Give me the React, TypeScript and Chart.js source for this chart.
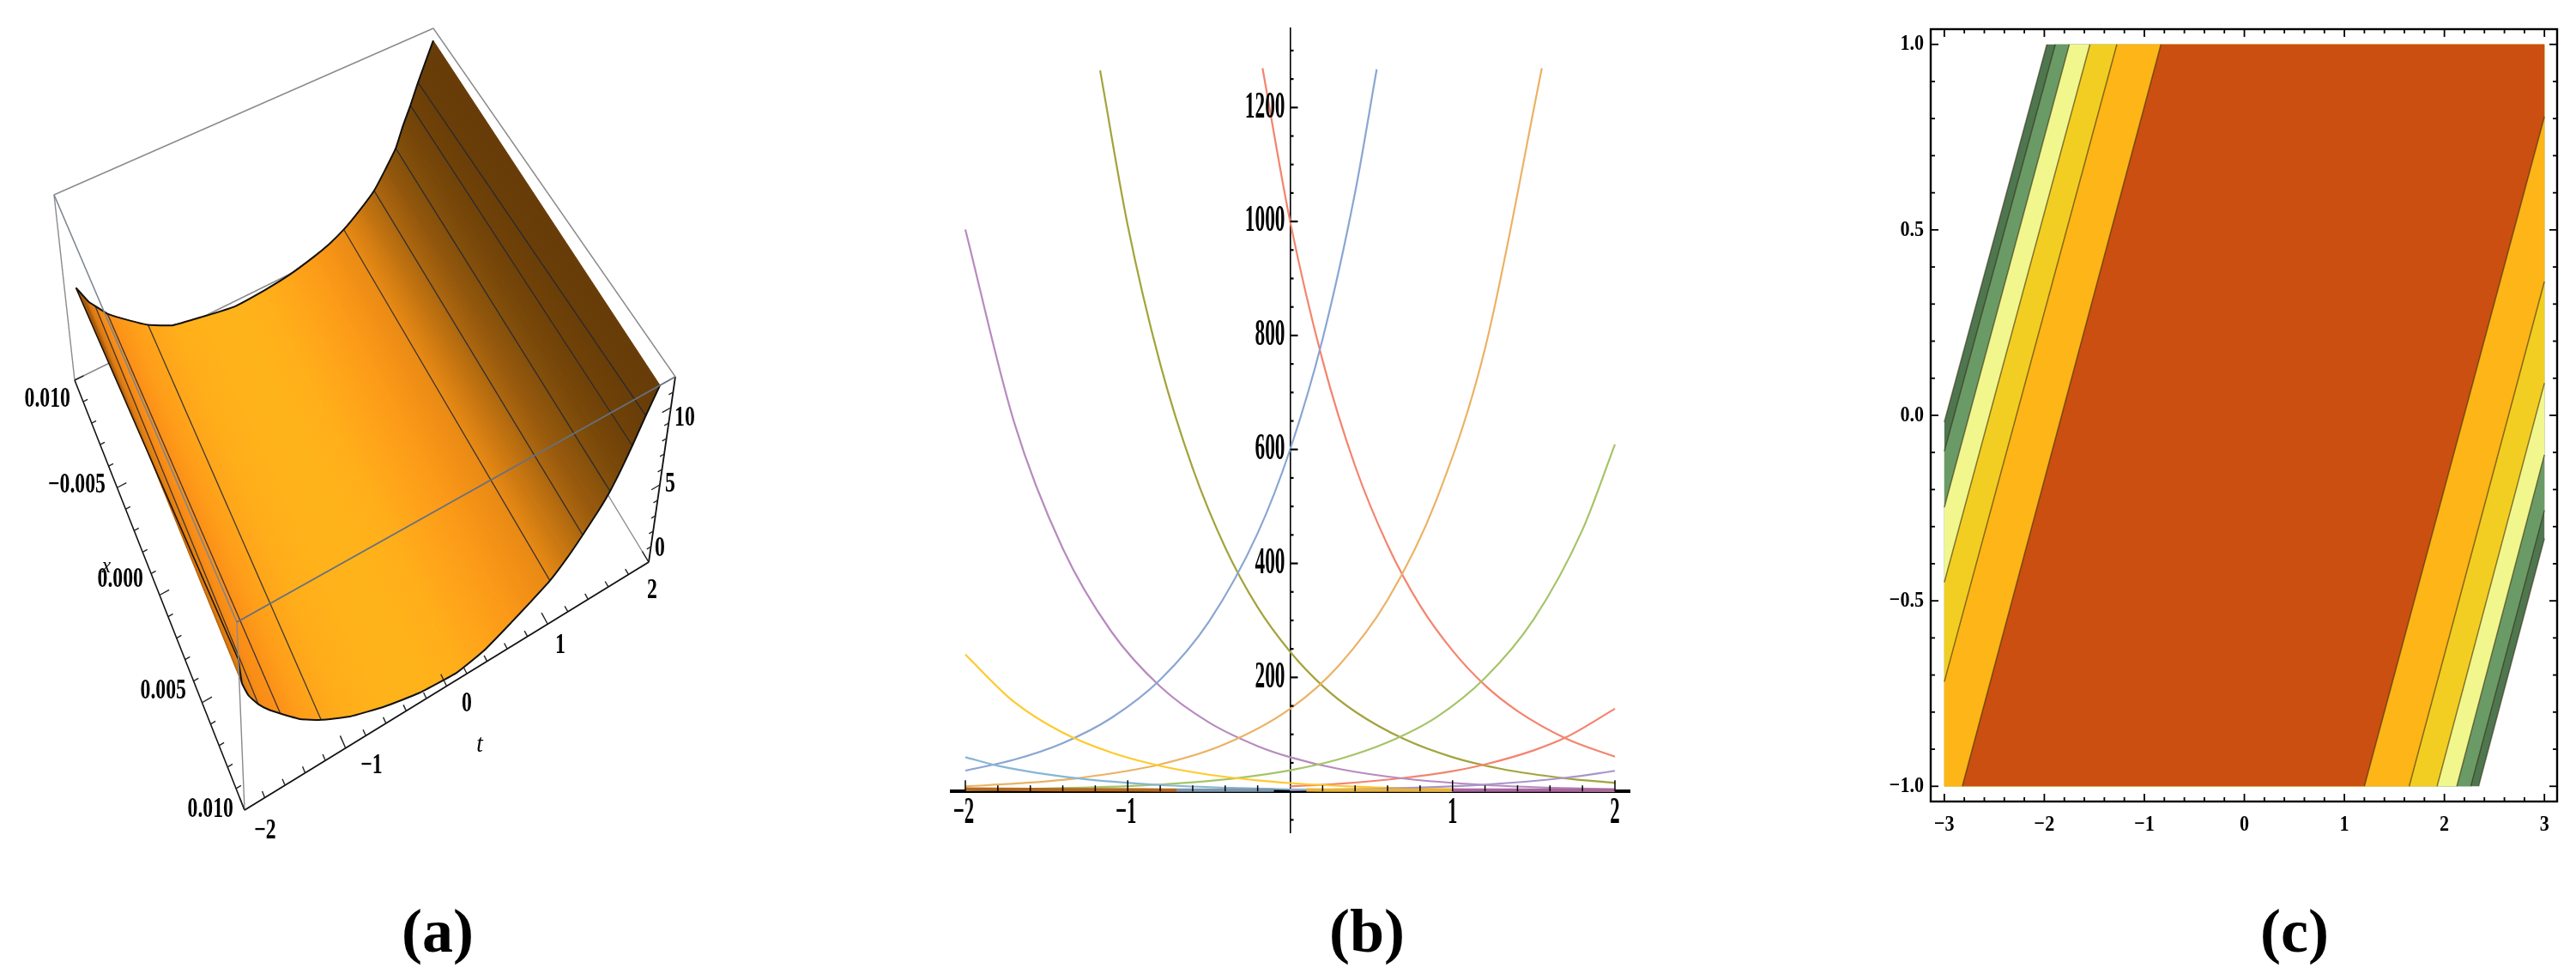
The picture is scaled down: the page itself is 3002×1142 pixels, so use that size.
import React, { useEffect, useRef } from "react";
import { Chart, registerables } from "chart.js";

Chart.register(...registerables);

/* ---------- panel (a) : surface ---------- */
const surfaceFrontT = [-2, -1.976, -1.92, -1.832, -1.74, -1.628, -1.44, -1.24, -0.96, -0.616, -0.28, 0.096, 0.36, 0.62, 0.8, 0.98, 1.14, 1.268, 1.4, 1.496, 1.58, 1.664, 1.76, 1.86];
const surfaceFrontZ = [9.6, 8.0, 7.0, 6.1, 5.4, 4.7, 3.6, 2.76, 1.86, 1.14, 0.66, 0.48, 0.84, 1.62, 2.22, 2.88, 3.78, 4.68, 5.7, 6.6, 7.64, 8.88, 10.44, 12];
const surfaceBackT = [-1.88, -1.8, -1.76, -1.7, -1.64, -1.58, -1.38, -1.16, -0.9, -0.56, -0.22, 0.12, 0.4, 0.68, 0.86, 1.02, 1.2, 1.36, 1.48, 1.6, 1.68, 1.76, 1.84, 2];
const surfaceBackZ = [5.64, 4.8, 4.38, 3.96, 3.54, 3.12, 2.16, 1.2, 0.42, 0.02, -0.33, -0.24, -0.04, 0.36, 0.72, 1.2, 1.98, 2.82, 3.84, 4.98, 6.3, 7.44, 8.76, 11.16];
const surfaceShade = ["#a85a0c", "#b9650e", "#d97a12", "#f08815", "#f98d17", "#fb9018", "#fe9c19", "#ffa51a", "#ffae1a", "#ffb21a", "#ffb31a", "#ffaf1a", "#ffa51a", "#fb9a18", "#f39116", "#e88a15", "#c97711", "#ad670f", "#95580d", "#84500b", "#784709", "#704208", "#6a3e08", "#683c08"];
const surfaceMeshRows = [3, 5, 7, 15, 17, 19, 21, 22];

const aTLabels = ["−2", "−1", "0", "1", "2"];
const aTTicks = [-2, -1, 0, 1, 2];
const aXLabels = ["0.010", "−0.005", "0.000", "0.005", "0.010"];
const aXTicks = [-0.01, -0.005, 0, 0.005, 0.01];
const aZLabels = ["0", "5", "10"];
const aZTicks = [0, 5, 10];

/* ---------- panel (b) : curves ---------- */
const blueT = [-2, -1.7, -1.4, -1.1, -0.8, -0.5, -0.2, 0, 0.2, 0.4, 0.533];
const blueV = [36.5, 55.6, 84.7, 129, 196, 298, 453, 600, 794, 1051, 1267];
const oliveT = [-1.17, -1, -0.8, -0.6, -0.4, -0.2, 0, 0.2, 0.4, 0.7, 1, 1.3, 1.7, 2];
const oliveV = [1265, 993, 750, 567, 428, 323, 245, 185, 140, 92, 60, 39.5, 22.7, 14.9];
const orangeT = [-2, -1.6, -1.3, -0.8, -0.4, 0, 0.3, 0.6, 0.9, 1.2, 1.55];
const orangeV = [8.8, 15.4, 23.5, 47.3, 83, 145, 221, 336, 511, 777, 1269];
const purpleT = [-2, -1.7, -1.4, -1.1, -0.8, -0.5, -0.2, 0, 0.3, 0.7, 1.2, 1.7, 2];
const purpleV = [986, 648, 426, 280, 184, 121, 79.5, 60, 39.4, 22.5, 11.2, 5.6, 3.6];
const redDownT = [-0.17, 0, 0.2, 0.4, 0.6, 0.8, 1, 1.2, 1.4, 1.7, 2];
const redDownV = [1269, 1000, 756, 571, 432, 326, 247, 186, 141, 92.6, 60.8];
const redUpT = [0, 0.3, 0.7, 1, 1.2, 1.5, 1.7, 2];
const redUpV = [8.8, 13.4, 23.6, 35.6, 47.3, 72, 95, 145];
const greenT = [-2, -1, -0.6, -0.3, 0, 0.3, 0.6, 0.9, 1.2, 1.5, 1.8, 2];
const greenV = [2.3, 9.1, 16, 24.3, 37, 56.4, 86, 130, 199, 302, 459, 609];
const yellowT = [-2, -1.7, -1.4, -1.1, -0.8, -0.5, -0.2, 0, 0.4, 0.8, 1.2, 2];
const yellowV = [240, 157, 103, 68, 44.7, 29.3, 19.3, 14.6, 8.3, 4.7, 2.7, 0.9];
const skyT = [-2, -1.8, -1.3, -0.8, -0.3, 0, 1];
const skyV = [60, 45, 22.6, 11.2, 5.6, 3.65, 0.9];
const lavenderT = [0, 0.7, 1.2, 1.7, 2];
const lavenderV = [2.2, 5.9, 11.8, 24, 36];
const lowBrownT = [-2, -1.4, -0.9, -0.7];
const lowBrownV = [4, 3, 2.5, 2];
const lowSlateT = [-0.7, -0.4, -0.1];
const lowSlateV = [2, 2, 2];
const lowGoldT = [0.1, 0.5, 1];
const lowGoldV = [2.5, 2, 2];
const lowPlumT = [1, 1.5, 2];
const lowPlumV = [2, 2, 2];

const bXLabels = [-2, -1, 1, 2];
const bYLabels = [200, 400, 600, 800, 1000, 1200];

/* ---------- panel (c) : contour levels ---------- */
const contourTopX = [-1.975, -1.89, -1.75, -1.544, -1.275, -0.834];
const contourLeftX = [-3, -3, -3, -3, -3, -2.82];
const contourLeftY = [-0.018, -0.097, -0.248, -0.45, -0.718, -1];
const contourRightY = [-0.332, -0.256, -0.106, 0.087, 0.361, 0.805];
const contourBottomX = [2.342, 2.264, 2.124, 1.927, 1.648, 1.2];
const contourFill = ["#4e7750", "#6a9b66", "#f2f78d", "#f3ce22", "#fdb517", "#cb4f10"];

const cXLabels = [-3, -2, -1, 0, 1, 2, 3];
const cYLabels = [-1, -0.5, 0, 0.5, 1];

const SERIF = '"Liberation Serif"';

function label(ctx: CanvasRenderingContext2D, text: string, x: number, y: number, size: number, sx: number, align: CanvasTextAlign, weight = "bold", style = "normal") {
  ctx.save();
  ctx.translate(x, y);
  ctx.scale(sx, 1);
  ctx.font = `${style} ${weight} ${size}px ${SERIF}`;
  ctx.textAlign = align;
  ctx.textBaseline = "middle";
  ctx.fillStyle = "#000";
  ctx.fillText(text, 0, 0);
  ctx.restore();
}

function seg(ctx: CanvasRenderingContext2D, x0: number, y0: number, x1: number, y1: number, width: number, color = "#000") {
  ctx.strokeStyle = color;
  ctx.lineWidth = width;
  ctx.beginPath();
  ctx.moveTo(x0, y0);
  ctx.lineTo(x1, y1);
  ctx.stroke();
}

/* box corners of the 3-D view, in canvas pixels [u = t, v = x, w = z] */
const BOX = {
  b00: [87, 443], b10: [503, 238], b01: [285, 944], b11: [756, 655],
  t00: [63, 227], t10: [505, 33], t01: [276, 725], t11: [787, 439],
};
const Z_MAX = 12;
function project(t: number, x: number, z: number) {
  const u = (t + 2) / 4, v = (x + 0.01) / 0.02, w = z / Z_MAX;
  const mix = (a: number, b: number, k: number) => a + (b - a) * k;
  const out = [0, 1].map((i) => {
    const bottom = mix(mix(BOX.b00[i], BOX.b10[i], u), mix(BOX.b01[i], BOX.b11[i], u), v);
    const top = mix(mix(BOX.t00[i], BOX.t10[i], u), mix(BOX.t01[i], BOX.t11[i], u), v);
    return mix(bottom, top, w);
  });
  return { x: out[0], y: out[1] };
}

const surfaceRow = (i: number) => ({
  front: project(surfaceFrontT[i], 0.01, surfaceFrontZ[i]),
  back: project(surfaceBackT[i], -0.01, surfaceBackZ[i]),
});

function boxLine(a: number[], b: number[], color: string, w: number) {
  return { data: [project(a[0], a[1], a[2]), project(b[0], b[1], b[2])], borderColor: color, borderWidth: w, showLine: true, pointRadius: 0, fill: false };
}

function panelAConfig() {
  const sets: any[] = [];
  const gray = "#8a8a8a";
  // hidden edges, under the surface
  sets.push(boxLine([-2, -0.01, 0], [2, -0.01, 0], gray, 1.4));
  sets.push(boxLine([2, -0.01, 0], [2, 0.01, 0], gray, 1.4));
  sets.push(boxLine([-2, -0.01, 0], [-2, -0.01, Z_MAX], gray, 1.4));
  sets.push(boxLine([-2, -0.01, Z_MAX], [2, -0.01, Z_MAX], gray, 1.4));
  sets.push(boxLine([2, -0.01, Z_MAX], [2, 0.01, Z_MAX], gray, 1.4));
  sets.push(boxLine([2, 0.01, 0], [2, 0.01, Z_MAX], "#111", 1.8));
  sets.push(boxLine([-2, -0.01, 0], [-2, 0.01, 0], "#111", 1.6));
  sets.push(boxLine([-2, 0.01, 0], [2, 0.01, 0], "#111", 1.8));

  // surface strips
  for (let i = 0; i < surfaceShade.length - 1; i++) {
    const a = surfaceRow(i), b = surfaceRow(i + 1);
    let cache: any = null;
    const paint = (ctx: any) => {
      if (cache) return cache;
      const g = ctx.chart.ctx as CanvasRenderingContext2D;
      const ax = (a.front.x + a.back.x) / 2, ay = (a.front.y + a.back.y) / 2;
      const bx = (b.front.x + b.back.x) / 2, by = (b.front.y + b.back.y) / 2;
      const dx = a.front.x - a.back.x, dy = a.front.y - a.back.y, len = Math.hypot(dx, dy) || 1;
      const nx = -dy / len, ny = dx / len;
      const d = (bx - ax) * nx + (by - ay) * ny;
      const grad = g.createLinearGradient(ax, ay, ax + nx * d, ay + ny * d);
      grad.addColorStop(0, surfaceShade[i]);
      grad.addColorStop(1, surfaceShade[i + 1]);
      cache = grad;
      return grad;
    };
    sets.push({ data: [a.front, b.front, b.back, a.back, a.front], backgroundColor: paint, borderColor: paint, borderWidth: 1, showLine: true, pointRadius: 0, fill: "shape" });
  }
  // mesh
  surfaceMeshRows.forEach((r) => {
    const s = surfaceRow(r);
    sets.push({ data: [s.front, s.back], borderColor: "rgba(30,35,50,0.85)", borderWidth: 1.3, showLine: true, pointRadius: 0, fill: false });
  });
  // rims
  const fr = surfaceFrontT.map((_, i) => surfaceRow(i).front);
  const br = surfaceBackT.map((_, i) => surfaceRow(i).back);
  sets.push({ data: fr, borderColor: "#111", borderWidth: 2, showLine: true, pointRadius: 0, fill: false, tension: 0.12 });
  sets.push({ data: br, borderColor: "#111", borderWidth: 2, showLine: true, pointRadius: 0, fill: false, tension: 0.12 });
  sets.push({ data: [br[0], fr[0]], borderColor: "#1a1205", borderWidth: 1.6, showLine: true, pointRadius: 0, fill: false });
  // near edges, over the surface
  sets.push(boxLine([-2, -0.01, Z_MAX], [-2, 0.01, Z_MAX], "#7d8790", 1.6));
  sets.push(boxLine([-2, 0.01, Z_MAX], [2, 0.01, Z_MAX], "#66717f", 2));
  sets.push(boxLine([-2, 0.01, 0], [-2, 0.01, Z_MAX], "#8a8a8a", 1.4));

  sets.forEach((s, i) => (s.order = -i));

  const decor = {
    id: "decorA",
    afterDraw(chart: any) {
      const ctx = chart.ctx as CanvasRenderingContext2D;
      ctx.save();
      for (let k = 0; k <= 20; k++) {
        const t = -2 + k * 0.2, major = k % 5 === 0;
        const p = project(t, 0.01, 0), q = project(t, major ? 0.0094 : 0.0097, 0);
        seg(ctx, p.x, p.y, q.x, q.y, 1.4, "#222");
      }
      for (let k = 0; k <= 20; k++) {
        const x = -0.01 + k * 0.001, major = k % 5 === 0;
        const p = project(-2, x, 0), q = project(major ? -1.9 : -1.95, x, 0);
        seg(ctx, p.x, p.y, q.x, q.y, 1.4, "#222");
      }
      for (let k = 0; k <= 11; k++) {
        const p = project(2, 0.01, k), q = project(k % 5 === 0 ? 1.92 : 1.96, 0.01, k);
        seg(ctx, p.x, p.y, q.x, q.y, 1.4, "#222");
      }
      const F = 33, S = 0.72;
      const xPos = [[82, 465], [123, 565], [167, 675], [217, 805], [272, 943]];
      aXTicks.forEach((_, i) => label(ctx, aXLabels[i], xPos[i][0], xPos[i][1], F, S, "right"));
      const tPos = [[309, 968], [433, 892], [544, 820], [653, 752], [760, 688]];
      aTTicks.forEach((_, i) => label(ctx, aTLabels[i], tPos[i][0], tPos[i][1], F, S, "center"));
      const zPos = [[769, 639], [781, 564], [798, 487]];
      aZTicks.forEach((_, i) => label(ctx, aZLabels[i], zPos[i][0], zPos[i][1], F, S, "center"));
      label(ctx, "x", 124, 660, 26, 0.9, "center", "normal", "italic");
      label(ctx, "t", 559, 868, 30, 0.9, "center", "normal", "italic");
      ctx.restore();
    },
  };

  return {
    type: "scatter" as const,
    data: { datasets: sets },
    plugins: [decor],
    options: {
      animation: false as const,
      responsive: false,
      devicePixelRatio: 1,
      layout: { padding: 0 },
      plugins: { legend: { display: false }, tooltip: { enabled: false } },
      scales: {
        x: { type: "linear" as const, display: false, min: 0, max: 900 },
        y: { type: "linear" as const, display: false, min: 0, max: 1000, reverse: true },
      },
    },
  };
}

function curve(ts: number[], vs: number[], color: string, width = 2.2) {
  return {
    data: ts.map((t, i) => ({ x: t, y: vs[i] })),
    borderColor: color,
    borderWidth: width,
    showLine: true,
    pointRadius: 0,
    fill: false,
    cubicInterpolationMode: "monotone" as const,
  };
}

function panelBConfig() {
  const sets = [
    curve(lowBrownT, lowBrownV, "#b5691f", 4),
    curve(lowSlateT, lowSlateV, "#7d96ad", 4),
    curve(lowGoldT, lowGoldV, "#e9b43c", 4),
    curve(lowPlumT, lowPlumV, "#a9669f", 4),
    curve(skyT, skyV, "#86b6d6"),
    curve(lavenderT, lavenderV, "#a995c9"),
    curve(yellowT, yellowV, "#ffc92e"),
    curve(greenT, greenV, "#a6c468"),
    curve(orangeT, orangeV, "#ebb264"),
    curve(blueT, blueV, "#8aa6d2"),
    curve(purpleT, purpleV, "#b88abf"),
    curve(redUpT, redUpV, "#f4846e"),
    curve(redDownT, redDownV, "#f4846e"),
    curve(oliveT, oliveV, "#a3a33c"),
  ];
  const decor = {
    id: "decorB",
    afterDraw(chart: any) {
      const ctx = chart.ctx as CanvasRenderingContext2D;
      const sx = chart.scales.x, sy = chart.scales.y;
      const x0 = sx.getPixelForValue(0), y0 = sy.getPixelForValue(0);
      ctx.save();
      for (let k = -10; k <= 10; k++) {
        const px = sx.getPixelForValue(k * 0.2);
        if (k !== 0) seg(ctx, px, y0, px, y0 - (k % 5 === 0 ? 13 : 7), 1.5);
      }
      for (let k = -1; k <= 26; k++) {
        if (k === 0) continue;
        const py = sy.getPixelForValue(k * 50);
        seg(ctx, x0, py, x0 + (k % 4 === 0 ? 9 : 4), py, 2.2);
      }
      bXLabels.forEach((v) => label(ctx, v < 0 ? "−" + Math.abs(v) : String(v), sx.getPixelForValue(v) + (v < 0 ? -2 : 0), 948, 44, 0.52, "center"));
      bYLabels.forEach((v) => label(ctx, String(v), x0 - 6, sy.getPixelForValue(v), 44, 0.53, "right"));
      ctx.restore();
    },
  };
  return {
    type: "scatter" as const,
    data: { datasets: sets },
    plugins: [decor],
    options: {
      animation: false as const,
      responsive: false,
      devicePixelRatio: 1,
      layout: { padding: { left: 49, right: 41, top: 33, bottom: 30 } },
      plugins: { legend: { display: false }, tooltip: { enabled: false } },
      scales: {
        x: {
          type: "linear" as const, min: -2.0845, max: 2.0898, position: { y: 0 },
          grid: { display: false }, ticks: { display: false },
          border: { display: true, color: "#000", width: 4 },
        },
        y: {
          type: "linear" as const, min: -72, max: 1339, position: { x: 0 },
          grid: { display: false }, ticks: { display: false },
          border: { display: true, color: "#000", width: 1.6 },
        },
      },
    },
  };
}

function panelCConfig() {
  const sets: any[] = [];
  contourFill.forEach((color, i) => {
    sets.push({
      data: [
        { x: contourLeftX[i], y: contourLeftY[i] },
        { x: contourTopX[i], y: 1 },
        { x: 3, y: 1 },
        { x: 3, y: contourRightY[i] },
        { x: contourBottomX[i], y: -1 },
        { x: contourLeftX[i], y: -1 },
        { x: contourLeftX[i], y: contourLeftY[i] },
      ],
      backgroundColor: color, borderColor: color, borderWidth: 0, showLine: true, pointRadius: 0, fill: "shape",
    });
  });
  contourFill.forEach((_, i) => {
    const line = "rgba(55,45,20,0.6)";
    sets.push({ data: [{ x: contourLeftX[i], y: contourLeftY[i] }, { x: contourTopX[i], y: 1 }], borderColor: line, borderWidth: 1.5, showLine: true, pointRadius: 0, fill: false });
    sets.push({ data: [{ x: 3, y: contourRightY[i] }, { x: contourBottomX[i], y: -1 }], borderColor: line, borderWidth: 1.5, showLine: true, pointRadius: 0, fill: false });
  });
  sets.forEach((s, i) => (s.order = -i));
  const decor = {
    id: "decorC",
    afterDraw(chart: any) {
      const ctx = chart.ctx as CanvasRenderingContext2D;
      const { left, right, top, bottom } = chart.chartArea;
      const sx = chart.scales.x, sy = chart.scales.y;
      ctx.save();
      ctx.strokeStyle = "#000";
      ctx.lineWidth = 2.4;
      ctx.strokeRect(left, top, right - left, bottom - top);
      for (let k = -15; k <= 15; k++) {
        const px = sx.getPixelForValue(k * 0.2), len = k % 5 === 0 ? 9 : 5;
        seg(ctx, px, bottom, px, bottom - len, 1.8);
        seg(ctx, px, top, px, top + len, 1.8);
      }
      for (let k = -10; k <= 10; k++) {
        const py = sy.getPixelForValue(k * 0.1), len = k % 5 === 0 ? 9 : 5;
        seg(ctx, left, py, left + len, py, 1.8);
        seg(ctx, right, py, right - len, py, 1.8);
      }
      cXLabels.forEach((v) => label(ctx, v < 0 ? "−" + Math.abs(v) : String(v), sx.getPixelForValue(v), 961, 26, 0.85, "center"));
      cYLabels.forEach((v) => label(ctx, (v < 0 ? "−" : "") + Math.abs(v).toFixed(1), left - 8, sy.getPixelForValue(v), 26, 0.85, "right"));
      ctx.restore();
    },
  };
  return {
    type: "scatter" as const,
    data: { datasets: sets },
    plugins: [decor],
    options: {
      animation: false as const,
      responsive: false,
      devicePixelRatio: 1,
      layout: { padding: { left: 92, right: 22, top: 34, bottom: 58 } },
      plugins: { legend: { display: false }, tooltip: { enabled: false } },
      scales: {
        x: { type: "linear" as const, min: -3.136, max: 3.127, grid: { display: false }, ticks: { display: false }, border: { display: false } },
        y: { type: "linear" as const, min: -1.041, max: 1.041, grid: { display: false }, ticks: { display: false }, border: { display: false } },
      },
    },
  };
}

function Panel({ left, width, make }: { left: number; width: number; make: () => any }) {
  const ref = useRef<HTMLCanvasElement>(null);
  useEffect(() => {
    const chart = new Chart(ref.current as HTMLCanvasElement, make());
    return () => chart.destroy();
  }, []);
  return <canvas ref={ref} width={width} height={1000} style={{ position: "absolute", left, top: 0, width, height: 1000 }} />;
}

function Caption({ x, text }: { x: number; text: string }) {
  return (
    <div style={{ position: "absolute", left: x - 100, width: 200, top: 1040, textAlign: "center", font: `bold 72px ${SERIF}`, lineHeight: "90px", color: "#000" }}>{text}</div>
  );
}

export default function App() {
  useEffect(() => {
    document.body.style.margin = "0";
    document.body.style.background = "#fff";
  }, []);
  return (
    <div style={{ position: "absolute", left: 0, top: 0, width: 3002, height: 1142, background: "#fff", overflow: "hidden" }}>
      <Panel left={0} width={900} make={panelAConfig} />
      <Panel left={1060} width={880} make={panelBConfig} />
      <Panel left={2150} width={852} make={panelCConfig} />
      <Caption x={510} text="(a)" />
      <Caption x={1593} text="(b)" />
      <Caption x={2674} text="(c)" />
    </div>
  );
}
